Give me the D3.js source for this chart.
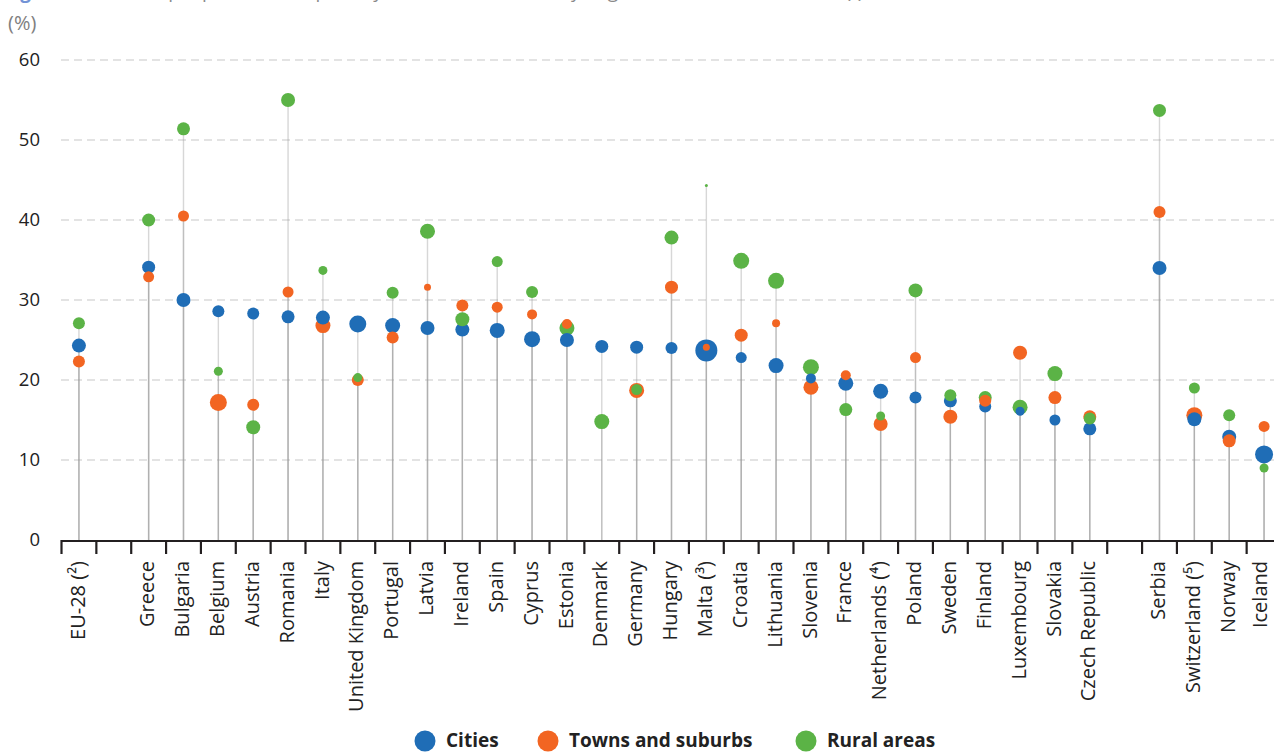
<!DOCTYPE html>
<html>
<head>
<meta charset="utf-8">
<script src="https://cdn.jsdelivr.net/npm/d3@7"></script>
<style>
  html, body { margin: 0; padding: 0; background: #fff; }
  svg { display: block; font-family: "Open Sans", "Noto Sans", sans-serif; }
</style>
</head>
<body>
<svg id="chart" width="1274" height="753"></svg>
<script>
// Countries in plot order; a blank slot follows the ones in gapAfter
const categories = ['EU-28 (²)', 'Greece', 'Bulgaria', 'Belgium', 'Austria', 'Romania', 'Italy',
  'United Kingdom', 'Portugal', 'Latvia', 'Ireland', 'Spain', 'Cyprus', 'Estonia', 'Denmark',
  'Germany', 'Hungary', 'Malta (³)', 'Croatia', 'Lithuania', 'Slovenia', 'France',
  'Netherlands (⁴)', 'Poland', 'Sweden', 'Finland', 'Luxembourg', 'Slovakia', 'Czech Republic',
  'Serbia', 'Switzerland (⁵)', 'Norway', 'Iceland'];
const gapAfter = ['EU-28 (²)', 'Czech Republic'];

// rate (%)
const cities = [24.3, 34.1, 30.0, 28.6, 28.3, 27.9, 27.8, 27.0, 26.8, 26.5, 26.3, 26.2, 25.1, 25.0, 24.2,
  24.1, 24.0, 23.7, 22.8, 21.8, 20.2, 19.6, 18.6, 17.8, 17.4, 16.7, 16.1, 15.0, 13.9,
  34.0, 15.1, 12.9, 10.7];
const towns = [22.3, 32.9, 40.5, 17.2, 16.9, 31.0, 26.8, 20.0, 25.3, 31.6, 29.3, 29.1, 28.2, 27.0, null,
  18.7, 31.6, 24.1, 25.6, 27.1, 19.1, 20.6, 14.5, 22.8, 15.4, 17.4, 23.4, 17.8, 15.4,
  41.0, 15.6, 12.4, 14.2];
const rural = [27.1, 40.0, 51.4, 21.1, 14.1, 55.0, 33.7, 20.3, 30.9, 38.6, 27.6, 34.8, 31.0, 26.5, 14.8,
  18.8, 37.8, 44.3, 34.9, 32.4, 21.6, 16.3, 15.5, 31.2, 18.1, 17.8, 16.6, 20.8, 15.2,
  53.7, 19.0, 15.6, 9.0];

// relative marker weight
const citiesWeight = [7, 6.5, 7, 6, 6, 6.5, 7, 8.5, 7.5, 7, 7, 7.5, 8, 7, 6.5,
  6.5, 6, 11, 5.5, 7.5, 5, 7.5, 7.5, 6, 6.5, 6, 4.5, 5.5, 6.5,
  7, 7, 7, 9];
const townsWeight = [6, 5.5, 5.5, 8.5, 6, 5.5, 7.5, 6, 6, 3.5, 6, 5.5, 5, 5, null,
  7.5, 6.5, 3.5, 6.5, 4, 7.5, 5, 7, 5.5, 7, 6, 7, 6.5, 6.5,
  6, 8, 6.5, 5.5];
const ruralWeight = [6, 6.5, 6.5, 4.5, 7, 7, 4.5, 4.5, 6, 7.5, 7, 5.5, 6, 7.5, 7.5,
  5.5, 7, 1.5, 8, 8, 8, 6.5, 4.5, 7, 6, 6.5, 7.5, 7.5, 6,
  6.5, 5.5, 6, 4.5];

const seriesNames = ['Cities', 'Towns and suburbs', 'Rural areas'];
const seriesColors = ['#1f6db6', '#f26522', '#5bb346'];
const yTicks = [0, 10, 20, 30, 40, 50, 60];

const svg = d3.select('#chart');
const width = 1274;

// slot domain with the blank gaps
const slots = [];
categories.forEach(c => {
  slots.push(c);
  if (gapAfter.includes(c)) slots.push('gap-' + c);
});

const x = d3.scaleBand().domain(slots).range([61.5, 1281.5]).padding(0);
const y = d3.scaleLinear().domain([0, 60]).range([540, 60]);
const r = d3.scaleLinear().domain([0, 1]).range([0, 1]);

// title, mostly cut off at the top edge (as in the source figure)
svg.append('text')
  .attr('x', 4).attr('y', -2)
  .attr('font-size', 19).attr('fill', '#8a8a8a')
  .html('<tspan fill="#7393d6" font-weight="bold">Figure 4:</tspan> Share of people at risk of poverty or social exclusion, by degree of urbanisation, 2014 (¹)');

svg.append('text')
  .attr('x', 8).attr('y', 30)
  .attr('font-size', 20).attr('fill', '#808080')
  .text('(%)');

// gridlines
svg.append('g')
  .selectAll('line')
  .data(yTicks.filter(d => d > 0))
  .join('line')
    .attr('x1', 61).attr('x2', width)
    .attr('y1', d => y(d)).attr('y2', d => y(d))
    .attr('stroke', '#c8c8c8').attr('stroke-width', 1.2)
    .attr('stroke-dasharray', '8,5');

svg.append('g')
  .selectAll('text')
  .data(yTicks)
  .join('text')
    .attr('x', 40).attr('y', d => y(d))
    .attr('dy', '0.35em')
    .attr('text-anchor', 'end')
    .attr('font-size', 18.5).attr('fill', '#222')
    .text(d => d);

// one record per dot
const sets = [[cities, citiesWeight], [towns, townsWeight], [rural, ruralWeight]];
const dots = [];
categories.forEach((c, i) => {
  sets.forEach(([vals, w], s) => {
    if (vals[i] == null) return;
    dots.push({country: c, series: s, value: vals[i], weight: w[i]});
  });
});

// stems: one translucent line per series, overlapping gives the darker lower part
svg.append('g')
  .selectAll('line')
  .data(dots)
  .join('line')
    .attr('x1', d => x(d.country) + x.bandwidth() / 2)
    .attr('x2', d => x(d.country) + x.bandwidth() / 2)
    .attr('y1', y(0))
    .attr('y2', d => y(d.value))
    .attr('stroke', '#9a9a9a').attr('stroke-opacity', 0.4)
    .attr('stroke-width', 1.4);

// bigger dots underneath
svg.append('g')
  .selectAll('circle')
  .data(dots.slice().sort((a, b) => b.weight - a.weight))
  .join('circle')
    .attr('cx', d => x(d.country) + x.bandwidth() / 2)
    .attr('cy', d => y(d.value))
    .attr('r', d => r(d.weight))
    .attr('fill', d => seriesColors[d.series]);

// x axis
const axis = svg.append('g');
axis.append('line')
  .attr('x1', 61.5).attr('x2', width)
  .attr('y1', 541).attr('y2', 541)
  .attr('stroke', '#231f20').attr('stroke-width', 2.2);

axis.selectAll('line.tick')
  .data(slots.concat(['end']))
  .join('line')
    .attr('class', 'tick')
    .attr('x1', (d, i) => x.range()[0] + i * x.step())
    .attr('x2', (d, i) => x.range()[0] + i * x.step())
    .attr('y1', 540).attr('y2', 554)
    .attr('stroke', '#231f20').attr('stroke-width', 2.2);

// last label would spill past the right edge, keep it inside
axis.selectAll('text')
  .data(categories)
  .join('text')
    .attr('transform', d => `translate(${Math.min(x(d) + x.bandwidth() / 2, width - 13)},561) rotate(-90)`)
    .attr('dy', '0.28em')
    .attr('text-anchor', 'end')
    .attr('font-size', 20).attr('fill', '#222')
    .text(d => d);

// legend
const legendX = [425, 548, 806];
const legend = svg.append('g')
  .selectAll('g')
  .data(seriesNames)
  .join('g')
    .attr('transform', (d, i) => `translate(${legendX[i]},741)`);
legend.append('circle')
  .attr('r', 10.5)
  .attr('fill', (d, i) => seriesColors[i]);
legend.append('text')
  .attr('x', 21).attr('dy', '0.3em')
  .attr('font-size', 19).attr('font-weight', 'bold').attr('fill', '#222')
  .text(d => d);
</script>
</body>
</html>
